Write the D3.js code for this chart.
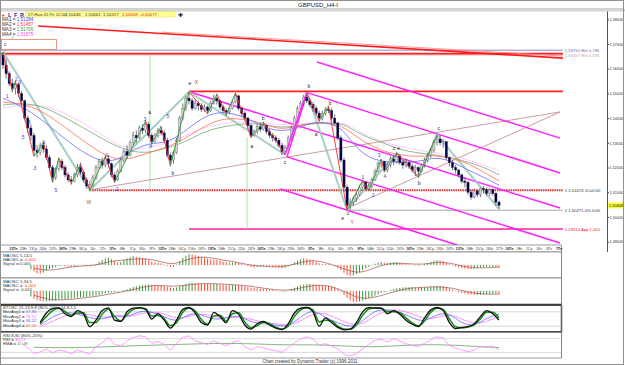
<!DOCTYPE html>
<html><head><meta charset="utf-8">
<script src="https://cdn.jsdelivr.net/npm/d3@7/dist/d3.min.js"></script>
<style>
body{margin:0;background:#fff}
svg{display:block}
text{font-family:"Liberation Sans",Arial,sans-serif}
</style></head><body>
<svg width="625" height="365"></svg>
<script>
// ---------------- DATA ----------------
const firstOpen = 1.5655;
const closes = [1.5615,1.5580,1.5540,1.5520,1.5535,1.5500,1.5470,1.5400,1.5360,1.5330,1.5270,1.5260,1.5290,1.5275,1.5240,1.5200,1.5160,1.5195,1.5225,1.5200,
1.5170,1.5150,1.5145,1.5170,1.5200,1.5180,1.5150,1.5125,1.5130,1.5160,1.5200,1.5225,1.5210,1.5235,1.5215,1.5170,1.5150,1.5185,1.5230,1.5265,
1.5250,1.5300,1.5330,1.5320,1.5360,1.5350,1.5375,1.5330,1.5305,1.5330,1.5350,1.5340,1.5310,1.5250,1.5230,1.5260,1.5310,1.5400,1.5440,1.5480,
1.5470,1.5440,1.5460,1.5450,1.5435,1.5445,1.5430,1.5460,1.5480,1.5470,1.5445,1.5430,1.5425,1.5440,1.5465,1.5490,1.5440,1.5420,1.5400,1.5370,
1.5330,1.5345,1.5365,1.5355,1.5370,1.5345,1.5330,1.5320,1.5310,1.5290,1.5265,1.5280,1.5320,1.5360,1.5400,1.5440,1.5460,1.5485,1.5470,1.5455,
1.5440,1.5420,1.5400,1.5420,1.5435,1.5430,1.5400,1.5380,1.5320,1.5230,1.5120,1.5045,1.5060,1.5075,1.5090,1.5120,1.5140,1.5115,1.5125,1.5150,
1.5185,1.5215,1.5225,1.5190,1.5210,1.5235,1.5225,1.5245,1.5220,1.5210,1.5220,1.5205,1.5190,1.5200,1.5185,1.5210,1.5230,1.5250,1.5270,1.5300,
1.5315,1.5300,1.5305,1.5240,1.5220,1.5200,1.5190,1.5170,1.5145,1.5140,1.5100,1.5080,1.5105,1.5090,1.5115,1.5110,1.5095,1.5110,1.5095,1.5060,1.50468];
const highs = [1.5668,1.5640,1.5590,1.5560,1.5550,1.5545,1.5510,1.5475,1.5410,1.5375,1.5340,1.5290,1.5300,1.5310,1.5290,1.5250,1.5210,1.5200,1.5240,1.5235,
1.5210,1.5180,1.5165,1.5180,1.5215,1.5220,1.5190,1.5160,1.5145,1.5170,1.5210,1.5235,1.5240,1.5250,1.5250,1.5220,1.5180,1.5195,1.5240,1.5275,
1.5290,1.5310,1.5345,1.5350,1.5370,1.5375,1.5390,1.5385,1.5340,1.5340,1.5360,1.5368,1.5350,1.5320,1.5260,1.5270,1.5320,1.5410,1.5460,1.5490,
1.5506,1.5480,1.5475,1.5470,1.5460,1.5455,1.5450,1.5470,1.5495,1.5498,1.5475,1.5455,1.5440,1.5450,1.5475,1.5502,1.5495,1.5445,1.5430,1.5405,
1.5375,1.5355,1.5375,1.5380,1.5385,1.5375,1.5355,1.5340,1.5330,1.5320,1.5300,1.5290,1.5330,1.5370,1.5410,1.5450,1.5470,1.5495,1.5505,1.5480,
1.5465,1.5450,1.5430,1.5430,1.5445,1.5450,1.5440,1.5415,1.5385,1.5330,1.5240,1.5130,1.5075,1.5085,1.5100,1.5130,1.5150,1.5145,1.5135,1.5160,
1.5195,1.5225,1.5235,1.5225,1.5220,1.5245,1.5250,1.5260,1.5255,1.5230,1.5235,1.5225,1.5215,1.5210,1.5205,1.5215,1.5240,1.5260,1.5280,1.5310,
1.5332,1.5330,1.5315,1.5305,1.5245,1.5230,1.5210,1.5195,1.5175,1.5160,1.5145,1.5110,1.5115,1.5110,1.5120,1.5125,1.5120,1.5118,1.5115,1.5100,1.50661];
const lows = [1.5600,1.5560,1.5530,1.5505,1.5495,1.5485,1.5455,1.5390,1.5340,1.5310,1.5250,1.5240,1.5250,1.5260,1.5230,1.5190,1.5140,1.5150,1.5185,1.5190,
1.5160,1.5140,1.5130,1.5140,1.5160,1.5170,1.5140,1.5115,1.5108,1.5120,1.5150,1.5190,1.5195,1.5200,1.5200,1.5160,1.5138,1.5145,1.5180,1.5220,
1.5235,1.5245,1.5290,1.5300,1.5315,1.5335,1.5340,1.5320,1.5295,1.5300,1.5320,1.5330,1.5300,1.5240,1.5205,1.5215,1.5255,1.5305,1.5390,1.5430,
1.5455,1.5430,1.5435,1.5430,1.5425,1.5425,1.5415,1.5425,1.5455,1.5455,1.5435,1.5420,1.5410,1.5415,1.5435,1.5460,1.5430,1.5405,1.5390,1.5355,
1.5320,1.5325,1.5335,1.5345,1.5350,1.5335,1.5320,1.5305,1.5300,1.5280,1.5250,1.5255,1.5275,1.5315,1.5350,1.5395,1.5430,1.5450,1.5460,1.5445,
1.5425,1.5410,1.5385,1.5390,1.5410,1.5420,1.5390,1.5370,1.5310,1.5220,1.5100,1.5027,1.5030,1.5045,1.5060,1.5085,1.5110,1.5105,1.5105,1.5115,
1.5145,1.5180,1.5200,1.5180,1.5180,1.5200,1.5210,1.5215,1.5210,1.5195,1.5200,1.5195,1.5180,1.5165,1.5160,1.5180,1.5200,1.5220,1.5240,1.5260,
1.5290,1.5290,1.5280,1.5230,1.5205,1.5190,1.5175,1.5160,1.5135,1.5120,1.5090,1.5070,1.5075,1.5080,1.5080,1.5095,1.5085,1.5085,1.5085,1.5045,1.50317];

// moving averages (read at selected bars)
const maIdx = [0,10,20,31,37,42,47,53,58,64,69,74,80,85,90,96,102,109,112,117,123,128,134,139,144,150,155,160];
const ma1 = [1.5481,1.5425,1.5311,1.5218,1.5230,1.5271,1.5299,1.5299,1.5340,1.5400,1.5425,1.5421,1.5392,1.5360,1.5344,1.5364,1.5392,1.5364,1.5311,1.5242,1.5222,1.5222,1.5222,1.5242,1.5230,1.5190,1.5161,1.51284];
const ma2 = [1.5465,1.5453,1.5364,1.5259,1.5230,1.5238,1.5259,1.5283,1.5311,1.5360,1.5392,1.5400,1.5392,1.5372,1.5352,1.5372,1.5384,1.5372,1.5344,1.5299,1.5263,1.5251,1.5242,1.5251,1.5238,1.5218,1.5182,1.51457];
const ma3 = [1.5453,1.5465,1.5404,1.5323,1.5283,1.5263,1.5259,1.5279,1.5299,1.5340,1.5360,1.5372,1.5380,1.5372,1.5360,1.5372,1.5380,1.5380,1.5360,1.5323,1.5299,1.5271,1.5259,1.5251,1.5242,1.5222,1.5202,1.51706];
const ma4 = [1.5441,1.5461,1.5425,1.5340,1.5291,1.5271,1.5279,1.5299,1.5323,1.5360,1.5372,1.5384,1.5384,1.5380,1.5372,1.5376,1.5384,1.5384,1.5368,1.5331,1.5303,1.5283,1.5271,1.5259,1.5251,1.5230,1.5210,1.51875];

// swing zigzag
const zigIdx = [0,3,4,10,13,16,18,22,25,28,33,36,46,48,51,54,60,66,69,72,75,80,84,91,98,102,105,111,116,118,122,123,127,134,140];
const zigPx = [1.5665,1.5510,1.5550,1.5245,1.5300,1.5140,1.5238,1.5135,1.5215,1.5108,1.5245,1.5140,1.5388,1.5298,1.5365,1.5207,1.5506,1.5418,1.5497,1.5412,1.5502,1.5322,1.5383,1.5252,1.5504,1.5388,1.5448,1.5027,1.5148,1.5105,1.5233,1.5182,1.5258,1.5162,1.5332];
// major wave
const waveIdx = [0,28,60,91,98,111,127,134,140,160];
const wavePx = [1.5668,1.5108,1.5506,1.5251,1.5502,1.5027,1.5259,1.5162,1.5332,1.5032];

// wave labels
const lblText = ["1","2","3","4","5","3","4","5","W","1","2","3","a","4","5","b","e","X","a","b","c","b","a","b","c","e","Y","1","2","3","4","c","e","b","c"];
const lblIdx  = [1.3,4.2,5.4,8.4,6.5,10.3,13.2,17.1,27.7,33.5,36.8,45.8,47.3,47.7,53.2,54.8,60.3,62.4,80.3,83.9,91,98.7,101,105.5,111.3,109.6,112.6,116.1,119.4,121.3,123.2,126.1,127.6,134.2,140.6];
const lblPx   = [1.5489,1.5558,1.5546,1.5384,1.5323,1.5198,1.5299,1.5109,1.5060,1.5251,1.5113,1.5396,1.5425,1.5287,1.5408,1.5178,1.5542,1.5546,1.5287,1.5400,1.5222,1.5530,1.5336,1.5461,1.5016,1.4996,1.4979,1.5162,1.5089,1.5251,1.5166,1.5279,1.5279,1.5137,1.5360];

// level lines [i1, p1, i2, p2]
const retLevels = [1.5675, 1.56557];
const retLabels = ["1,56750 Ret 0,786", "1,56557 Ret 0,786"];
const redTop = 1.5661;
const xLevel = [60, 1.5508];
const wLevel = [28, 1.51074];
const yLevel = [111, 1.50271];
const appLevel = [60, 1.4951];
const redDiag = [11.3, 1.5773, 180.6, 1.5643];
const channels = [[101.3,1.5627,179.7,1.5319],[98.4,1.5502,179.7,1.5178],[60.3,1.5506,179.7,1.5036],[91.6,1.5243,179.7,1.4894],[89.4,1.5113,146.5,1.4886],[91.6,1.5243,98.1,1.5502]];
const brownLines = [[27.7,1.5109,179.7,1.5425],[111.3,1.5036,179.7,1.5425]];
const greenVert = [[47.4,1.5655,1.5109],[78.7,1.5323,1.4951]];

const priceTicks = [1.58,1.57,1.56,1.55,1.54,1.53,1.52,1.51,1.50,1.49];
const lastPrice = 1.50468;

const dateLabels = ["21Пн","22Вт","23Ср","24Чт","25Пт","28Пн","29Вт","30Ср","1Чт","2Пт","5Пн","6Вт","7Ср","8Чт","9Пт","12Пн","13Вт","14Ср","15Чт","16Пт","19Пн","20Вт","21Ср","22Чт","23Пт","26Пн","27Вт","28Ср","29Чт","30Пт","2Пн","3Вт","4Ср","5Чт","6Пт","9Пн","10Вт","11Ср","12Чт","13Пт","16Пн","17Вт","18Ср","19Чт","20Пт","23Пн","24Вт","25Ср","26Чт","27Пт","30Пн","1Вт","2Ср","3Чт","4Пт","7Пн"];
const barsPerDay = 3.2;

// oscillators
const oscStart = 9;
const macd1 = [-2.0,-3.0,-3.8,-4.0,-3.5,-2.6,-1.8,-1.5,-1.0,-0.4,-0.3,-0.5,
-0.7,-0.8,-0.5,-0.2,0.0,-0.3,-0.5,-0.6,-0.2,0.6, 1.5,2.3,3.0,3.3,2.8,1.9,1.2,1.4,2.2,3.0,
3.6,4.0,3.8,3.6,3.2,3.0,2.4,1.6,1.2,1.0, 0.8,0.3,-0.5,-1.0,-0.8,0.2,1.8,3.2,4.3,5.0,
4.8,4.5,4.1,3.7,3.3,2.9,2.6,2.5,2.3,2.0, 1.6,1.3,1.1,1.2,1.3,0.9,0.5,0.1,-0.4,-1.0,
-1.1,-0.9,-0.7,-0.5,-0.6,-0.8,-0.9,-1.0,-1.2,-1.5, -1.3,-0.6,0.3,1.2,2.0,2.6,3.0,2.9,2.5,2.0,
1.4,0.8,0.5,0.4,0.3,0.0,-0.4,-1.2,-2.3,-3.6, -4.6,-5.0,-4.8,-4.2,-3.4,-2.4,-1.5,-0.8,-0.1,0.6,
1.1,1.3,1.0,0.9,1.1,1.2,1.3,1.0,0.6,0.4, 0.2,0.0,-0.1,-0.2,0.0,0.4,0.9,1.4,1.9,2.2,
2.1,1.8,1.2,0.5,-0.2,-0.7,-1.1,-1.4,-1.6,-1.8, -1.9,-1.7,-1.5,-1.2,-1.0,-0.9,-0.8,-0.8,-0.9,-1.2];
const macd2 = [-2.5,-3.5,-4.2,-4.6,-4.8,-4.8,-4.7,-4.6,-4.4,-4.1,-3.9,-3.8,
-3.6,-3.5,-3.3,-3.1,-2.9,-2.8,-2.7,-2.6,-2.4,-2.1, -1.8,-1.5,-1.1,-0.8,-0.6,-0.5,-0.3,0.0,0.4,0.8,
1.3,1.8,2.2,2.5,2.7,2.9,3.0,2.9,2.8,2.7, 2.6,2.4,2.0,1.6,1.4,1.6,2.2,2.8,3.3,3.7,
3.8,3.7,3.6,3.5,3.4,3.3,3.2,3.2,3.2,3.1, 3.0,2.9,2.8,2.8,2.8,2.7,2.5,2.2,1.9,1.5,
1.3,1.2,1.1,1.0,0.8,0.6,0.4,0.2,0.0,-0.3, -0.3,0.2,0.8,1.5,2.1,2.6,3.0,3.2,3.2,3.1,
3.0,2.8,2.6,2.5,2.4,2.1,1.7,0.9,-0.3,-1.8, -3.2,-4.3,-4.9,-5.0,-4.8,-4.4,-3.9,-3.4,-2.8,-2.1,
-1.5,-0.9,-0.5,-0.1,0.4,0.8,1.2,1.4,1.6,1.7, 1.8,1.8,1.7,1.6,1.6,1.7,1.8,2.0,2.2,2.4,
2.4,2.2,1.8,1.2,0.6,0.0,-0.5,-0.9,-1.2,-1.5, -1.7,-1.8,-1.8,-1.7,-1.5,-1.4,-1.3,-1.2,-1.3,-1.5];
const sigIdx = [10,15,20,25,30,35,40,45,50,55,60,65,70,75,80,85,90,95,100,105,110,115,120,125,130,135,140,145,150,155,160];
const signal1 = [-1.5,-2.8,-1.2,-0.4,-0.3,2.0,2.3,3.2,2.0,-0.2,3.0,4.0,2.5,1.4,-0.2,-0.7,-1.1,0.8,2.5,0.8,-1.8,-4.2,-1.0,0.9,0.8,0.0,1.5,0.8,-1.3,-1.4,-1.0];
const signal2 = [-2.0,-4.0,-4.2,-3.3,-2.6,-1.2,-0.1,1.8,2.8,1.9,2.8,3.6,3.2,2.9,2.2,1.1,0.1,0.9,2.8,2.6,0.0,-3.8,-3.0,-0.8,1.2,1.7,2.0,1.5,-0.6,-1.6,-1.4];

const stStart = 12; // every 2 bars
const stochK = [35,75,93,96,72,60,85,70,18,45,85,96,45,40,80,95,97,90,50,72,45,12,45,90,98,75,35,25,78,60,35,85,70,25,8,30,40,25,12,6,30,75,95,98,80,20,55,35,15,5,8,35,80,97,96,95,72,85,70,45,28,18,55,88,98,85,35,10,15,18,30,60,85,72,45];
const stochD = [30,60,85,95,82,65,75,76,35,35,70,92,60,42,68,90,96,93,62,65,52,22,35,78,96,84,48,28,62,66,42,72,76,38,14,22,36,30,16,8,20,60,88,97,88,38,45,42,20,8,7,25,65,92,96,95,80,80,76,55,34,22,42,78,95,90,50,18,13,17,26,50,78,78,55];
// every 4 bars
const stochMa3 = [25,60,80,72,55,45,70,55,85,80,60,35,75,70,45,55,68,35,30,25,15,60,92,55,35,12,40,88,90,80,55,35,72,75,30,20,55,70];
const stochMa4 = [20,40,65,75,68,55,60,58,70,82,72,50,60,75,60,52,60,50,35,30,22,40,75,75,50,28,25,65,88,88,72,50,55,72,50,28,38,62];

const rsiStart = 6; // every 2 bars
const rsi = [60,40,15,22,35,18,30,25,15,30,22,12,45,62,85,55,48,70,85,92,88,60,68,55,28,60,85,92,70,62,55,70,58,50,62,72,45,30,45,40,32,28,20,40,62,78,88,78,52,58,48,35,12,5,15,35,55,72,78,65,80,70,58,50,45,60,75,88,82,50,38,32,22,30,45,42,48,30];
const emaIdx = [10,20,30,40,50,60,70,80,90,100,110,120,130,140,150,160];
const rsiEma = [42,40,42,48,52,56,60,58,52,54,48,42,52,55,48,41];

// ---------------- DRAW ----------------
const svg = d3.select("svg");
const x = d3.scaleLinear().domain([0,160]).range([3,499]);
const y = d3.scaleLinear().domain([1.49,1.58]).range([241.6,19.3]);
const f5 = v => v.toFixed(5).replace('.',',');
const PW = 561; // lower panel width

svg.append('rect').attr('width',625).attr('height',365).attr('fill','#fff');

// title bar
svg.append('rect').attr('x',0.5).attr('y',0.5).attr('width',623).attr('height',8.5).attr('fill','#fff').attr('stroke','#a0a0a0');
svg.append('text').attr('x',318).attr('y',6.6).attr('text-anchor','middle').attr('font-size',6).attr('fill','#222').text('GBPUSD_H4-I');
svg.append('rect').attr('x',0).attr('y',9).attr('width',625).attr('height',2.5).attr('fill','#d4d4d4');

// main clip
svg.append('clipPath').attr('id','mc').append('rect').attr('x',1).attr('y',11.5).attr('width',606).attr('height',233.5);
const main = svg.append('g').attr('clip-path','url(#mc)');

function ln(g,x1,y1,x2,y2,col,w,dash){
  const l=g.append('line').attr('x1',x1).attr('y1',y1).attr('x2',x2).attr('y2',y2).attr('stroke',col).attr('stroke-width',w);
  if(dash) l.attr('stroke-dasharray',dash);
  return l;
}
const xEnd = x(180.6);

// horizontal levels
ln(main,0,y(retLevels[0]),xEnd,y(retLevels[0]),'#9a86b8',1);
ln(main,0,y(redTop),xEnd,y(redTop),'#ff2020',2);
ln(main,0,y(retLevels[1]),xEnd,y(retLevels[1]),'#e8a0a0',0.8);
ln(main,x(xLevel[0]),y(xLevel[1]),xEnd,y(xLevel[1]),'#ff2020',1.6);
ln(main,x(wLevel[0]),y(wLevel[1]),xEnd,y(wLevel[1]),'#d03030',2,'1.5,0.8');
ln(main,x(yLevel[0]),y(yLevel[1]),xEnd,y(yLevel[1]),'#909090',0.8);
ln(main,x(appLevel[0]),y(appLevel[1]),xEnd,y(appLevel[1]),'#ff20a0',1.4);
greenVert.forEach(v=>ln(main,x(v[0]),y(v[1]),x(v[0]),y(v[2]),'#9be39b',0.9));
// red diagonals
ln(main,x(redDiag[0]),y(redDiag[1]),x(redDiag[2]),y(redDiag[3]),'#ff1a1a',1.6);
ln(main,x(redDiag[0]+40),y(redDiag[1]-0.0025),x(redDiag[2]),y(redDiag[3]+0.0008),'#f08080',0.8);
// brown
brownLines.forEach(b=>ln(main,x(b[0]),y(b[1]),x(b[2]),y(b[3]),'#c89090',0.9));
// channels
channels.forEach(c=>ln(main,x(c[0]),y(c[1]),x(c[2]),y(c[3]),'#ff20ff',1.5));

// major wave (teal)
const lineW = d3.line().x(d=>x(d[0])).y(d=>y(d[1]));
const wv = waveIdx.map((v,k)=>[v,wavePx[k]]);
main.append('path').attr('d',lineW(wv.slice(0,4))).attr('fill','none').attr('stroke','#9cc8c0').attr('stroke-width',2.1).attr('opacity',0.85);
main.append('path').attr('d',lineW(wv.slice(4))).attr('fill','none').attr('stroke','#9cc8c0').attr('stroke-width',2.1).attr('opacity',0.85);
ln(main,x(0),y(1.5655),x(3.5),y(1.5735),'#8fd08f',0.9);

// MAs
const maLine = d3.line().x((d,k)=>x(maIdx[k])).y(d=>y(d)).curve(d3.curveBasis);
[[ma4,'#ff90ff','1.2,0.8'],[ma3,'#70a870',null],[ma2,'#ff7050',null],[ma1,'#6a6aff',null]].forEach(m=>{
  const p=main.append('path').attr('d',maLine(m[0])).attr('fill','none').attr('stroke',m[1]).attr('stroke-width',0.8);
  if(m[2]) p.attr('stroke-dasharray',m[2]);
});

// candles
const bars = closes.map((c,i)=>({i, o: i===0?firstOpen:closes[i-1], h: highs[i], l: lows[i], c}));
const cg = main.append('g');
cg.selectAll('line.w').data(bars).join('line').attr('class','w')
  .attr('x1',d=>x(d.i)).attr('x2',d=>x(d.i)).attr('y1',d=>y(d.h)).attr('y2',d=>y(d.l))
  .attr('stroke','#505060').attr('stroke-width',0.8);
cg.selectAll('rect').data(bars).join('rect')
  .attr('x',d=>x(d.i)-1.1).attr('width',2.2)
  .attr('y',d=>y(Math.max(d.o,d.c))).attr('height',d=>Math.max(1,Math.abs(y(d.o)-y(d.c))))
  .attr('fill',d=>d.c>=d.o?'#d0d0d0':'#000050').attr('stroke',d=>d.c>=d.o?'#707070':'#202040').attr('stroke-width',0.4);

// zigzag
for(let k=0;k<zigIdx.length-1;k++){
  const up = zigPx[k+1]>zigPx[k];
  const isAB = zigIdx[k]===91;
  ln(main,x(zigIdx[k]),y(zigPx[k]),x(zigIdx[k+1]),y(zigPx[k+1]), isAB?'#ff20ff':(up?'#2a9a2a':'#ff2a2a'), isAB?1.5:0.9);
}

// wave labels
lblText.forEach((t,k)=>{
  let col='#222';
  if(/[0-9]/.test(t)) col='#3c3cd0';
  if(t==='W') col='#a06050';
  if(t==='X'||t==='Y') col='#e02020';
  main.append('text').attr('x',x(lblIdx[k])).attr('y',y(lblPx[k])+2).attr('text-anchor','middle')
    .attr('font-size',5).attr('fill',col).text(t);
});

// right-side level labels
const rl = [[retLevels[0],retLabels[0],'#8060b0'],[retLevels[1],retLabels[1],'#c8a0a0'],
  [wLevel[1],'1 '+f5(wLevel[1])+' 1Cx0:00','#303030'],[yLevel[1],'1 '+f5(yLevel[1])+' 0% 0:00','#303030'],
  [appLevel[1],f5(appLevel[1])+' App 1,000','#ff2020']];
rl.forEach(r=>main.append('text').attr('x',xEnd+2).attr('y',y(r[0])+1.6).attr('font-size',4.2).attr('fill',r[2]).text(r[1]));

// ------ price axis
const pa = svg.append('g').attr('transform','translate(607,0)')
  .call(d3.axisRight(y).tickValues(priceTicks).tickFormat(f5).tickSize(2));
pa.select('.domain').remove();
pa.selectAll('text').attr('font-size',3.9).attr('fill','#333').attr('x',2.4);
pa.selectAll('line').attr('stroke','#444');
ln(svg,607.5,11.5,607.5,252,'#555',1);
// last price
svg.append('rect').attr('x',608).attr('y',y(lastPrice)-3).attr('width',15.5).attr('height',6).attr('fill','#ffff40');
svg.append('text').attr('x',609).attr('y',y(lastPrice)+1.5).attr('font-size',3.9).attr('fill','#000').text(f5(lastPrice));

// ------ header toolbar
const tb = svg.append('g');
tb.append('text').attr('x',1.5).attr('y',16.5).attr('font-size',6).attr('fill','#e02020').attr('font-weight','bold').text('+');
['L','F','R'].forEach((t,k)=>tb.append('text').attr('x',8+k*6).attr('y',16.5).attr('font-size',5.5).attr('fill','#203080').attr('font-weight','bold').text(t));
tb.append('rect').attr('x',26).attr('y',11.5).attr('width',149).attr('height',5.5).attr('fill','#ffff90').attr('stroke','#d8d860').attr('stroke-width',0.5);
const hdr = [['27-Ноя-15 Пт 12:00',28,'#333'],['1,50446',65,'#333'],['1,50661',85,'#333'],['1,50317',103,'#333'],['1,50468',122,'#e02020'],['-0,00077',140,'#e02020']];
hdr.forEach(h=>tb.append('text').attr('x',h[1]).attr('y',15.9).attr('font-size',4.3).attr('fill',h[2]).text(h[0]));
tb.append('text').attr('x',178).attr('y',16.5).attr('font-size',6).attr('fill','#222').text('✚');

// MA legend
const mal = [['MA1 = ',ma1[ma1.length-1],'#4040ff'],['MA2 = ',ma2[ma2.length-1],'#ff3030'],['MA3 = ',ma3[ma3.length-1],'#40a040'],['MA4 = ',ma4[ma4.length-1],'#ff40ff']];
mal.forEach((m,k)=>{
  const t=svg.append('text').attr('x',2).attr('y',20.5+k*5.2).attr('font-size',4.6).attr('fill','#333');
  t.append('tspan').text(m[0]);
  t.append('tspan').attr('fill',m[2]).text(f5(m[1]));
});
// "c" box
svg.append('rect').attr('x',1.5).attr('y',39.5).attr('width',55).attr('height',10).attr('fill','#fff').attr('stroke','#e88060').attr('stroke-width',0.8);
svg.append('text').attr('x',4).attr('y',45.5).attr('font-size',5).attr('fill','#333').text('c');

// ------ date axis
svg.append('rect').attr('x',0.5).attr('y',245).attr('width',PW).attr('height',7).attr('fill','#fff').attr('stroke','#808080').attr('stroke-width',0.8);
const dIdx = dateLabels.map((d,k)=>(k+1)*barsPerDay);
const da = svg.append('g').attr('transform','translate(0,245)')
  .call(d3.axisBottom(x).tickValues(dIdx).tickFormat((d,k)=>dateLabels[k]).tickSize(0));
da.select('.domain').remove();
da.selectAll('text').attr('font-size',3.3).attr('fill','#333').attr('dy',0).attr('y',5.3)
  .attr('font-weight',(d,k)=>dateLabels[k].endsWith('Пн')?'bold':'normal');

// ------ lower panels
function frame(y0,h,thick){
  svg.append('rect').attr('x',0.5).attr('y',y0).attr('width',PW).attr('height',h).attr('fill','#fff')
    .attr('stroke',thick?'#000':'#808080').attr('stroke-width',thick?1.4:0.8);
}
frame(252,26,false);
frame(278,26,false);
frame(305,27,true);
frame(332.5,25.5,false);

function hist(vals,ys){
  const g=svg.append('g');
  vals.forEach((v,k)=>{
    const up = k===0 || v>=vals[k-1];
    ln(g,x(oscStart+k),ys(0),x(oscStart+k),ys(v),up?'#3c9a3c':'#ff5030',1);
  });
  ln(g,x(oscStart),ys(0),x(160),ys(0),'#b0b0b0',0.4,'1,1');
}
const ym1 = d3.scaleLinear().domain([-5.5,5.5]).range([277,253]);
const ym2 = d3.scaleLinear().domain([-5.5,5.5]).range([303,279]);
hist(macd1,ym1);
hist(macd2,ym2);
const sigLine = ys => d3.line().x((d,k)=>x(sigIdx[k])).y(d=>ys(d)).curve(d3.curveBasis);
svg.append('path').attr('d',sigLine(ym1)(signal1)).attr('fill','none').attr('stroke','#a05050').attr('stroke-width',0.7);
svg.append('path').attr('d',sigLine(ym2)(signal2)).attr('fill','none').attr('stroke','#a05050').attr('stroke-width',0.7);

function plabel(y0,lines){
  lines.forEach((l,k)=>{
    const t=svg.append('text').attr('x',3).attr('y',y0+k*4.4).attr('font-size',4.3).attr('fill','#333');
    t.append('tspan').text(l[0]);
    if(l[1]) t.append('tspan').attr('fill',l[2]).text(l[1]);
  });
}
plabel(256.5,[['MAOSC 5,14,5'],['MAOSC = ','-0,002','#ff3030'],['Signal = ','0,000','#333']]);
plabel(282.5,[['MAOSC 5,34,5'],['MAOSC = ','-0,003','#ff3030'],['Signal = ','-0,005','#333']]);

// stochastic
const ys = d3.scaleLinear().domain([0,100]).range([331,307]);
ln(svg,1,ys(80),PW,ys(80),'#b8b8b8',0.6);
ln(svg,1,ys(20),PW,ys(20),'#b8b8b8',0.6);
const l2 = d3.line().x((d,k)=>x(stStart+2*k)).y(d=>ys(d)).curve(d3.curveMonotoneX);
const l4 = d3.line().x((d,k)=>x(stStart+4*k)).y(d=>ys(d)).curve(d3.curveBasis);
svg.append('path').attr('d',l4(stochMa4)).attr('fill','none').attr('stroke','#ff70ff').attr('stroke-width',0.8);
svg.append('path').attr('d',l4(stochMa3)).attr('fill','none').attr('stroke','#5050ff').attr('stroke-width',0.7);
svg.append('path').attr('d',l2(stochD)).attr('fill','none').attr('stroke','#109010').attr('stroke-width',1.5);
svg.append('path').attr('d',l2(stochK)).attr('fill','none').attr('stroke','#101010').attr('stroke-width',1.3);
plabel(309,[['STOSC 21,13,8,8 (80%-20%) 14,8,5,5'],['MovAvg1 = ','57,90','#5050ff'],['MovAvg2 = ','76,12','#ff50ff'],['MovAvg3 = ','34,52','#5050ff'],['MovAvg4 = ','47,00','#ff6020']]);

// RSI
const yr = d3.scaleLinear().domain([0,100]).range([357,334]);
ln(svg,1,yr(80),PW,yr(80),'#c0c0c0',0.6);
ln(svg,1,yr(20),PW,yr(20),'#c0c0c0',0.6);
svg.append('path').attr('d',d3.line().x((d,k)=>x(emaIdx[k])).y(d=>yr(d)).curve(d3.curveBasis)(rsiEma)).attr('fill','none').attr('stroke','#60a860').attr('stroke-width',0.8);
svg.append('path').attr('d',d3.line().x((d,k)=>x(rsiStart+2*k)).y(d=>yr(d))(rsi)).attr('fill','none').attr('stroke','#ff80ff').attr('stroke-width',0.8);
plabel(336.5,[['RSI 8,80 (80%-20%)'],['RSI = ','30,17','#ff50ff'],['EMA = ','41,38','#40a040']]);

// footer
svg.append('text').attr('x',310).attr('y',363).attr('text-anchor','middle').attr('font-size',4.5).attr('fill','#333').text('Chart created by Dynamic Trader  (c) 1996-2011');
// outer border
svg.append('rect').attr('x',0.5).attr('y',0.5).attr('width',623).attr('height',364).attr('fill','none').attr('stroke','#909090');
ln(svg,PW+0.5,252,PW+0.5,358,'#808080',0.8);
</script>
</body></html>
